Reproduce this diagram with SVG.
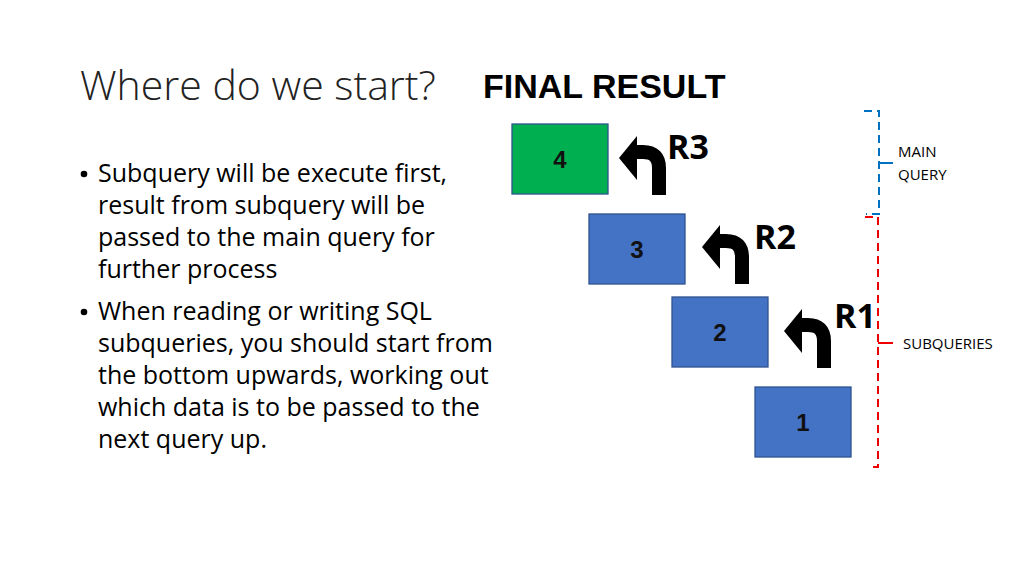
<svg xmlns="http://www.w3.org/2000/svg" width="1024" height="576" viewBox="0 0 1024 576">
<style>
.t{font-family:"Open Sans","Liberation Sans",Arial,sans-serif;fill:#000}
.b{font-size:25px}
.box{stroke:#2f528f;stroke-width:1.3}
.blue{fill:#4472c4}
.num{font-family:"Liberation Sans",Arial,sans-serif;font-weight:bold;font-size:24px;text-anchor:middle;fill:#111}
.r{font-family:"Open Sans","Liberation Sans",sans-serif;font-weight:bold;font-size:34px}
.lbl{font-family:"Open Sans","Liberation Sans",sans-serif;font-size:15px}
</style>
<defs>
<g id="arr">
<path d="M0,35 V8 Q0,-8 -16,-8 H-22" fill="none" stroke="#000" stroke-width="14"/>
<polygon points="-40,-2 -22,-24 -22,20" fill="#000"/>
</g>
</defs>
<rect width="1024" height="576" fill="#fff"/>
<text x="80" y="100" font-family="Open Sans,Liberation Sans,sans-serif" font-weight="300" font-size="41" fill="#222">Where do we start?</text>
<text x="483" y="98" font-family="Liberation Sans,Arial,sans-serif" font-weight="bold" font-size="34">FINAL RESULT</text>
<g fill="#000">
<circle cx="84" cy="174" r="3.3"/>
<circle cx="84" cy="312" r="3.3"/>
</g>
<g class="t b">
<text x="98" y="182">Subquery will be execute first,</text>
<text x="98" y="214">result from subquery will be</text>
<text x="98" y="246">passed to the main query for</text>
<text x="98" y="278">further process</text>
<text x="98" y="320">When reading or writing SQL</text>
<text x="98" y="352">subqueries, you should start from</text>
<text x="98" y="384">the bottom upwards, working out</text>
<text x="98" y="416">which data is to be passed to the</text>
<text x="98" y="448">next query up.</text>
</g>
<g id="node4"><rect x="512" y="124" width="96" height="70" fill="#00b050" class="box"/><text x="560" y="168" class="num">4</text></g>
<g id="node3"><rect x="589" y="214" width="96" height="70" class="box blue"/><text x="637" y="258" class="num">3</text></g>
<g id="node2"><rect x="672" y="297" width="96" height="70" class="box blue"/><text x="720" y="341" class="num">2</text></g>
<g id="node1"><rect x="755" y="387" width="96" height="70" class="box blue"/><text x="803" y="431" class="num">1</text></g>
<g id="connectors">
<use href="#arr" x="659" y="160"/>
<use href="#arr" x="742" y="249"/>
<use href="#arr" x="824" y="333"/>
</g>
<text x="667" y="159" class="r">R3</text>
<text x="754" y="249" class="r">R2</text>
<text x="834" y="328" class="r">R1</text>
<g id="main-brace" fill="none" stroke="#0070c0" stroke-width="2" stroke-dasharray="8,5">
<path d="M864,111 H879 V214 H866" />
<path d="M879,163 H893" stroke-dasharray="none"/>
</g>
<g id="sub-brace" fill="none" stroke="#e00" stroke-width="2" stroke-dasharray="8,5">
<path d="M865,217 H878 V467 H868"/>
<path d="M878,343 H893" stroke-dasharray="none"/>
</g>
<text x="898" y="157" class="lbl">MAIN</text>
<text x="898" y="180" class="lbl">QUERY</text>
<text x="903" y="349" class="lbl">SUBQUERIES</text>
</svg>
